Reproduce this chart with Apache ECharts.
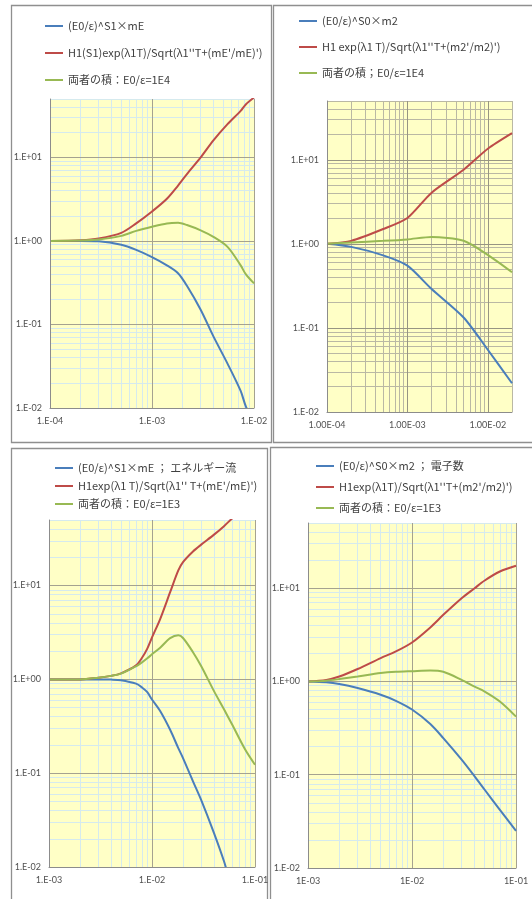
<!DOCTYPE html>
<html>
<head>
<meta charset="utf-8">
<script src="https://cdn.jsdelivr.net/npm/echarts@6/dist/echarts.min.js"></script>
<style>
  html, body { margin: 0; padding: 0; background: #ffffff; }
  #chart { width: 532px; height: 899px; }
</style>
</head>
<body>
<div id="chart"></div>
<script>
// ---- Panel A: E0/ε = 1E4, energy-flow form (mE) ----
const xA = [1e-4, 2e-4, 3e-4, 5e-4, 7e-4, 1e-3, 1.4e-3, 1.8e-3, 2.2e-3, 3e-3, 4e-3, 5.5e-3, 7.4e-3, 8.3e-3, 1e-2];
const blueA = [1.0, 1.0, 0.99, 0.9, 0.78, 0.64, 0.51, 0.41, 0.29, 0.15, 0.072, 0.034, 0.016, 0.0105, 0.0065];
const redA = [1.0, 1.02, 1.07, 1.25, 1.62, 2.25, 3.2, 4.6, 6.3, 10.0, 16.0, 25.0, 36.0, 43.0, 52.0];
const greenA = [1.0, 1.01, 1.04, 1.15, 1.32, 1.48, 1.62, 1.65, 1.55, 1.34, 1.12, 0.85, 0.51, 0.40, 0.31];

// ---- Panel B: E0/ε = 1E4, electron-number form (m2) ----
const xB = [1e-4, 2e-4, 5e-4, 1e-3, 2e-3, 5e-3, 1e-2, 2e-2];
const blueB = [1.0, 0.92, 0.73, 0.55, 0.29, 0.133, 0.055, 0.022];
const redB = [1.0, 1.085, 1.5, 2.03, 4.06, 7.6, 13.5, 20.7];
const greenB = [1.0, 1.04, 1.085, 1.13, 1.21, 1.09, 0.74, 0.46];

// ---- Panel C: E0/ε = 1E3, energy flow ----
const xC = [1e-3, 2e-3, 3e-3, 4e-3, 5e-3, 7e-3, 8e-3, 9e-3, 1e-2, 1.2e-2, 1.5e-2, 1.8e-2, 2e-2, 2.5e-2, 3e-2, 4e-2, 5e-2, 6e-2, 8e-2, 1e-1];
const blueC = [1.0, 1.0, 1.0, 0.995, 0.98, 0.9, 0.82, 0.73, 0.61, 0.46, 0.29, 0.185, 0.145, 0.082, 0.052, 0.023, 0.0115, 0.0058, 0.002, 0.001];
const redC = [1.0, 1.0, 1.04, 1.09, 1.16, 1.41, 1.7, 2.13, 2.8, 4.4, 8.5, 14.5, 17.8, 23.1, 27.3, 34.9, 43.0, 52.0, 68.0, 85.0];
const greenC = [1.0, 1.0, 1.04, 1.09, 1.15, 1.38, 1.52, 1.68, 1.85, 2.18, 2.75, 2.95, 2.76, 1.95, 1.39, 0.75, 0.48, 0.33, 0.18, 0.123];

// ---- Panel D: E0/ε = 1E3, electron number ----
const xD = [1e-3, 1.5e-3, 2e-3, 3e-3, 5e-3, 7e-3, 1e-2, 1.5e-2, 2e-2, 3e-2, 4e-2, 5e-2, 7e-2, 1e-1];
const blueD = [1.0, 0.98, 0.94, 0.85, 0.72, 0.62, 0.50, 0.35, 0.247, 0.145, 0.096, 0.069, 0.042, 0.025];
const redD = [1.0, 1.04, 1.13, 1.36, 1.78, 2.1, 2.62, 3.8, 5.18, 7.8, 10.0, 12.1, 15.1, 17.4];
const greenD = [1.0, 1.02, 1.06, 1.13, 1.23, 1.27, 1.29, 1.31, 1.27, 1.04, 0.88, 0.78, 0.61, 0.42];

// Legend names
const namesA = ["(E0/ε)^S1×mE", "H1(S1)exp(λ1T)/Sqrt(λ1''T+(mE'/mE)')", "両者の積：E0/ε=1E4"];
const namesB = ["(E0/ε)^S0×m2", "H1 exp(λ1 T)/Sqrt(λ1''T+(m2'/m2)')", "両者の積；E0/ε=1E4"];
const namesC = ["(E0/ε)^S1×mE ； エネルギー流", "H1exp(λ1 T)/Sqrt(λ1'' T+(mE'/mE)')", "両者の積：E0/ε=1E3"];
const namesD = ["(E0/ε)^S0×m2 ； 電子数", "H1exp(λ1T)/Sqrt(λ1''T+(m2'/m2)')", "両者の積：E0/ε=1E3 "];

// Axis ranges and tick labels
const xRangeA = [1e-4, 1e-2], xRangeB = [1e-4, 2e-2], xRangeCD = [1e-3, 1e-1];
const yRange = [1e-2, 50];
const yTickLabels = { "-2": "1.E-02", "-1": "1.E-01", "0": "1.E+00", "1": "1.E+01" };
const xTickLabelsA = { "-4": "1.E-04", "-3": "1.E-03", "-2": "1.E-02" };
const xTickLabelsB = { "-4": "1.00E-04", "-3": "1.00E-03", "-2": "1.00E-02" };
const xTickLabelsC = { "-3": "1.E-03", "-2": "1.E-02", "-1": "1.E-01" };
const xTickLabelsD = { "-3": "1E-03", "-2": "1E-02", "-1": "1E-01" };

const COLORS = { blue: '#4A7EBB', red: '#BE4B48', green: '#98B954' };
const FONT = '"Noto Sans CJK JP", "Noto Sans", sans-serif';
const TICK_FONT = 'Lato, "Noto Sans", sans-serif';

function decadeLabel(map) {
  return function (v) {
    const e = Math.log10(v);
    const r = Math.round(e);
    if (Math.abs(e - r) > 1e-6) return '';
    return map[String(r)] || '';
  };
}

// Log-decade gridlines (1..9 × 10^n) inside an axis range
function logLines(min, max, key, minorStyle, majorStyle) {
  const minor = [], major = [];
  const e0 = Math.floor(Math.log10(min)), e1 = Math.ceil(Math.log10(max));
  for (let e = e0; e <= e1; e++) {
    for (let k = 1; k <= 9; k++) {
      const v = k * Math.pow(10, e);
      if (v <= min * 1.0001 || v > max * 1.0001) continue;
      if (k === 1) major.push({ [key]: v, lineStyle: majorStyle });
      else minor.push({ [key]: v, lineStyle: minorStyle });
    }
  }
  return { minor, major };
}

function gridSeries(idx, xr, minorColor, majorColor) {
  const minorStyle = { color: minorColor, width: 1, type: 'solid', opacity: 1 };
  const majorStyle = { color: majorColor, width: 1, type: 'solid', opacity: 1 };
  const xl = logLines(xr[0], xr[1], 'xAxis', minorStyle, majorStyle);
  const yl = logLines(yRange[0], yRange[1], 'yAxis', minorStyle, majorStyle);
  return {
    type: 'line',
    xAxisIndex: idx, yAxisIndex: idx,
    data: [[xr[0], 1]],
    symbol: 'none',
    lineStyle: { opacity: 0 },
    silent: true,
    z: 1,
    animation: false,
    markLine: {
      z: 1,
      precision: 12,
      silent: true,
      symbol: ['none', 'none'],
      label: { show: false },
      emphasis: { disabled: true },
      animation: false,
      data: [].concat(xl.minor, yl.minor, xl.major, yl.major)
    }
  };
}

function curve(idx, name, xs, ys, color, smooth) {
  return {
    name: name,
    type: 'line',
    xAxisIndex: idx, yAxisIndex: idx,
    data: xs.map((x, i) => [x, ys[i]]),
    symbol: 'none',
    smooth: smooth,
    clip: true,
    lineStyle: { color: color, width: 2 },
    itemStyle: { color: color },
    z: 10,
    animation: false
  };
}

const grids = [
  { left: 50, top: 99, width: 204, height: 309 },
  { left: 327, top: 101, width: 185, height: 311 },
  { left: 49, top: 520, width: 206, height: 347 },
  { left: 308, top: 523, width: 208, height: 345 }
].map(g => Object.assign({ show: true, backgroundColor: '#FFFFC6', borderWidth: 0 }, g));

const xRanges = [xRangeA, xRangeB, xRangeCD, xRangeCD];
const xLabelMaps = [xTickLabelsA, xTickLabelsB, xTickLabelsC, xTickLabelsD];

const xAxes = xRanges.map((r, i) => ({
  type: 'log', gridIndex: i, min: r[0], max: r[1], logBase: 10,
  axisLine: { show: true, lineStyle: { color: '#8c8c8c', width: 1 } },
  axisTick: { show: false },
  splitLine: { show: false },
  z: 12,
  axisLabel: {
    formatter: decadeLabel(xLabelMaps[i]), fontSize: 9, color: '#505050',
    fontFamily: TICK_FONT, margin: 9, showMinLabel: true, showMaxLabel: true, hideOverlap: false
  }
}));

const yAxes = [0, 1, 2, 3].map(i => ({
  type: 'log', gridIndex: i, min: yRange[0], max: yRange[1], logBase: 10,
  axisLine: { show: true, lineStyle: { color: '#8c8c8c', width: 1 } },
  axisTick: { show: false },
  splitLine: { show: false },
  z: 12,
  axisLabel: {
    formatter: decadeLabel(yTickLabels), fontSize: 9, color: '#505050',
    fontFamily: TICK_FONT, margin: 8, showMinLabel: true, hideOverlap: false
  }
}));

function legend(names, left, top, gap) {
  return {
    data: names, orient: 'vertical', left: left, top: top, padding: 0,
    itemGap: gap, icon: 'rect', itemWidth: 18, itemHeight: 2,
    selectedMode: false,
    textStyle: { fontSize: 11, color: '#404040', fontFamily: FONT, lineHeight: 14 }
  };
}

const minorBlue = '#D5EAEE', majorGray = '#A5A290';

const series = [
  gridSeries(0, xRangeA, minorBlue, majorGray),
  gridSeries(1, xRangeB, '#BAB8A4', '#979583'),
  gridSeries(2, xRangeCD, minorBlue, majorGray),
  gridSeries(3, xRangeCD, minorBlue, majorGray),

  curve(0, namesA[0], xA, blueA, COLORS.blue, 0.3),
  curve(0, namesA[1], xA, redA, COLORS.red, 0.3),
  curve(0, namesA[2], xA, greenA, COLORS.green, 0.3),

  curve(1, namesB[0], xB, blueB, COLORS.blue, 0.25),
  curve(1, namesB[1], xB, redB, COLORS.red, 0.25),
  curve(1, namesB[2], xB, greenB, COLORS.green, 0.25),

  curve(2, namesC[0], xC, blueC, COLORS.blue, 0.3),
  curve(2, namesC[1], xC, redC, COLORS.red, 0.3),
  curve(2, namesC[2], xC, greenC, COLORS.green, 0.3),

  curve(3, namesD[0], xD, blueD, COLORS.blue, 0.3),
  curve(3, namesD[1], xD, redD, COLORS.red, 0.3),
  curve(3, namesD[2], xD, greenD, COLORS.green, 0.3)
];

const frame = (x, y, w, h) => ({
  type: 'rect', silent: true, z: 0,
  shape: { x: x, y: y, width: w, height: h },
  style: { fill: 'none', stroke: '#8f8f8f', lineWidth: 1.3 }
});

const chart = echarts.init(document.getElementById('chart'), null, { renderer: 'canvas' });
chart.setOption({
  backgroundColor: '#ffffff',
  animation: false,
  textStyle: { fontFamily: FONT },
  grid: grids,
  xAxis: xAxes,
  yAxis: yAxes,
  legend: [
    legend(namesA, 45, 19, 13),
    legend(namesB, 299, 14, 12),
    legend(namesC, 55, 461, 4),
    legend(namesD, 316, 459, 7)
  ],
  graphic: [
    frame(11.5, 5.5, 260, 437),
    frame(273.5, 5.5, 270, 437),
    frame(11.5, 448.5, 256, 470),
    frame(270.5, 447.5, 270, 470)
  ],
  series: series
});
</script>
</body>
</html>
